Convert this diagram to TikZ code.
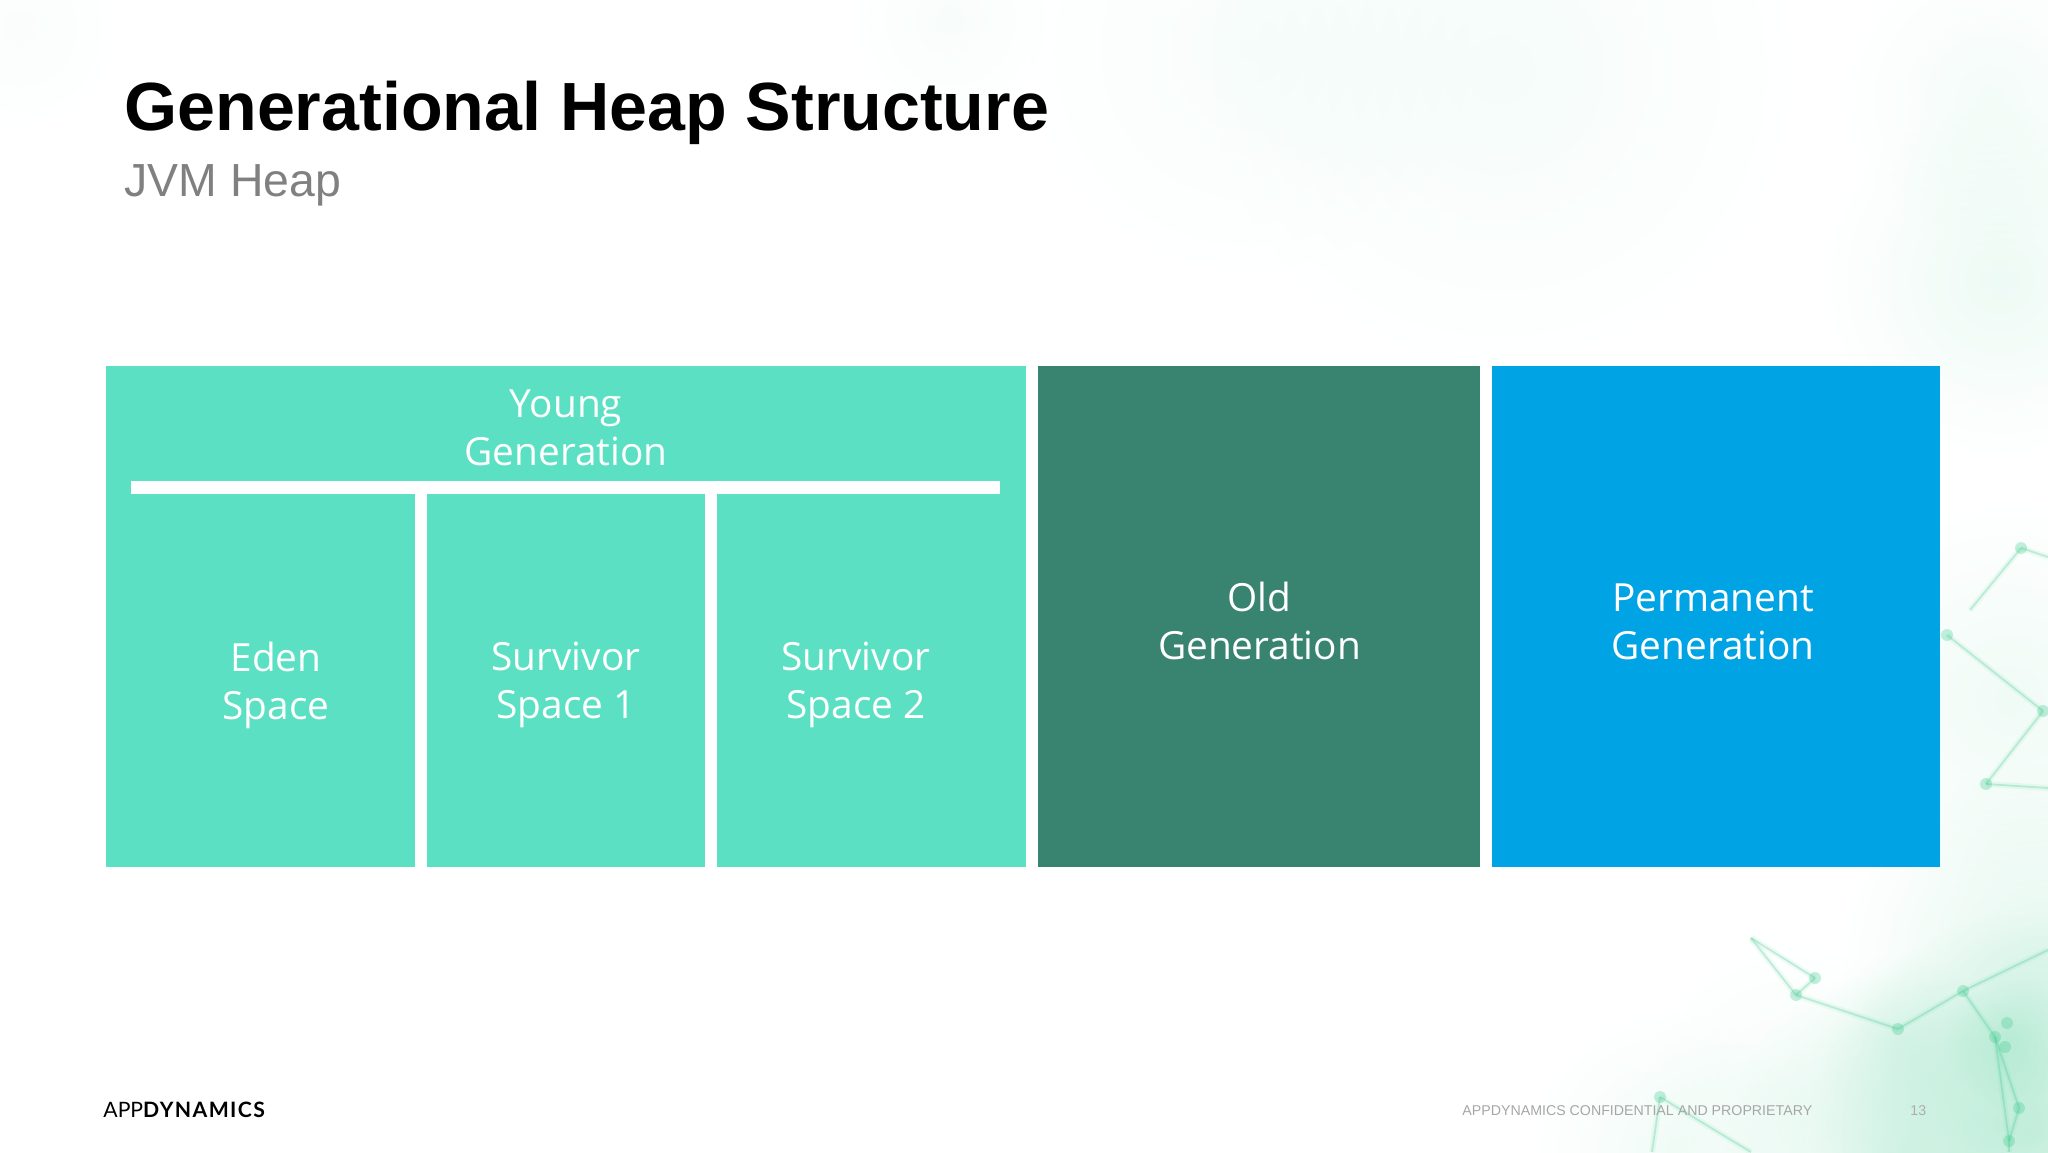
\documentclass[tikz,border=0pt]{standalone}
\usepackage{fontspec}
\usetikzlibrary{fadings}
\setmainfont{Liberation Sans}
\newfontfamily\boxfont{Open Sans}
\newfontfamily\logofont{Lato}
\definecolor{youngcol}{HTML}{5CE0C4}
\definecolor{oldcol}{HTML}{398371}
\definecolor{permcol}{HTML}{00A3E4}
\definecolor{netcol}{HTML}{3CC88C}
\tikzfading[name=softblob,inner color=transparent!0,outer color=transparent!100]
\begin{document}
\begin{tikzpicture}[x=.5pt,y=-.5pt,
            box/.style={anchor=north west,inner sep=0pt,outer sep=0pt},
            boxlabel/.style={text=white,align=center,inner sep=0pt,
                font=\boxfont\fontsize{19.4}{24}\selectfont},
            netline/.style={netcol,line width=.9pt,opacity=.28},
            netglow/.style={netcol,line width=3pt,opacity=.08},
            blob/.style={fill=netcol,path fading=softblob}]
            \useasboundingbox (0,0) rectangle (2048,1152);
            %background
            \foreach \x/\y/\r/\o in {
                2030/1130/220/.28, 2040/960/200/.14, 1900/1150/180/.14, 1670/1150/140/.07,
                1790/1090/150/.05, 2010/700/200/.08, 2000/280/180/.09, 1990/100/150/.06,
                1500/70/300/.05, 1250/50/230/.04, 950/20/100/.04, 1900/1040/90/.08,
                2010/1040/70/.16, 20/30/100/.03} {
                \fill[blob,opacity=\o] (\x,\y) circle[radius=\r];
            }
            \foreach \n/\x/\y in {
                a/2021/548, b/1947/635, c/2043/711, d/1986/784, e/1815/978, f/1796/995,
                g/1898/1029, h/1963/991, i/1995/1037, j/2007/1023, k/2005/1047,
                l/2019/1108, m/2009/1141, n/1660/1097} {
                \coordinate (net\n) at (\x,\y);
                \fill[netcol,opacity=.3] (\x,\y) circle[radius=6];
            }
            \coordinate (neta1) at (2048,557);
            \coordinate (neta2) at (1970,610);
            \coordinate (netd1) at (2048,788);
            \coordinate (nete1) at (1751,938);
            \coordinate (neth1) at (2048,950);
            \coordinate (netm1) at (2009,1152);
            \coordinate (netn1) at (1652,1152);
            \coordinate (netn2) at (1751,1152);
            \foreach \s/\t in {neta/neta1, neta/neta2, netb/netc, netd/netc, netd/netd1,
                nete/netf, nete/nete1, netf/nete1, netf/netg, netg/neth, neth/neth1,
                neth/neti, neti/netm, neti/netl, netl/netm, netm/netm1, netn/netn1, netn/netn2} {
                \draw[netglow] (\s) -- (\t);
                \draw[netline] (\s) -- (\t);
            }
            %boxes
            \node (young) [box,fill=youngcol,minimum width=460pt,minimum height=250.5pt] at (106,366) {};
            \node (bar) [box,fill=white,minimum width=434.5pt,minimum height=6.5pt] at (131,480.5) {};
            \node (gap1) [box,fill=white,minimum width=6pt,minimum height=187pt] at (415,493) {};
            \node (gap2) [box,fill=white,minimum width=6pt,minimum height=187pt] at (705,493) {};
            \node (old) [box,fill=oldcol,minimum width=221pt,minimum height=250.5pt] at (1038,366) {};
            \node (perm) [box,fill=permcol,minimum width=224pt,minimum height=250.5pt] at (1492,366) {};

            \node (younglabel) [boxlabel] at (566,428) {Young\\Generation};
            \node (eden) [boxlabel] at (276,685) {Eden\\Space};
            \node (surv1) [boxlabel] at (566,685) {Survivor\\Space 1};
            \node (surv2) [boxlabel] at (856,685) {Survivor\\Space 2};
            \node (oldlabel) [boxlabel] at (1259.5,621) {Old\\Generation};
            \node (permlabel) [boxlabel] at (1713,622) {Permanent\\Generation};
            %titles
            \node (title) [anchor=base west,inner sep=0pt,font=\bfseries\fontsize{34.1}{40}\selectfont] at (124,130) {Generational Heap Structure};
            \node (sub) [anchor=base west,inner sep=0pt,text=black!50,font=\fontsize{23.2}{28}\selectfont] at (124,196) {JVM Heap};
            %footer
            \node (logo) [anchor=base west,inner sep=0pt,font=\logofont\fontsize{10.6}{13}\selectfont] at (103,1117) {APP\addfontfeature{LetterSpace=6.5}\bfseries DYNAMICS};
            \node (conf) [anchor=base west,inner sep=0pt,text=black!35,font=\fontsize{7.1}{9}\selectfont] at (1462,1115) {APPDYNAMICS  CONFIDENTIAL AND PROPRIETARY};
            \node (page) [anchor=base west,inner sep=0pt,text=black!32,font=\fontsize{7.1}{9}\selectfont] at (1910,1115) {13};
\end{tikzpicture}
\end{document}
